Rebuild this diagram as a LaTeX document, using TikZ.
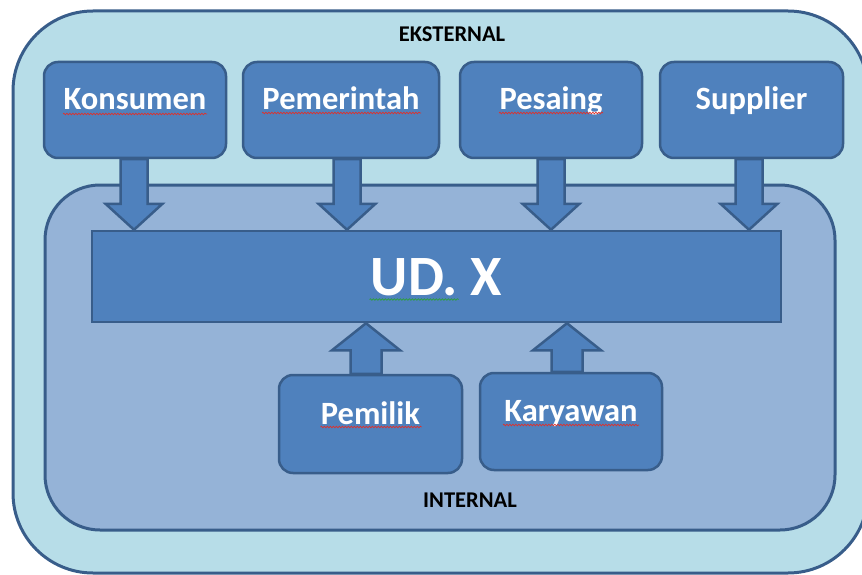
\documentclass[tikz,border=0pt]{standalone}
\usepackage{fontspec}
\setmainfont{Carlito}
\usetikzlibrary{calc,decorations.pathmorphing}
\pgfdeclarelayer{zone}
\pgfdeclarelayer{arr}
\pgfsetlayers{zone,arr,main}
\definecolor{outerfill}{HTML}{B7DDE8}
\definecolor{innerfill}{HTML}{95B3D7}
\definecolor{boxblue}{HTML}{4F81BD}
\definecolor{dk}{HTML}{385D8A}
\definecolor{spellred}{HTML}{E0302A}
\definecolor{spellgreen}{HTML}{2E9E3E}
\tikzset{
  outerbox/.style={fill=outerfill,draw=dk,line width=3pt,rounded corners=80pt},
  innerbox/.style={fill=innerfill,draw=dk,line width=3pt,rounded corners=55pt},
  box/.style={rectangle,rounded corners=14pt,fill=boxblue,draw=dk,line width=2.5pt,
    text=white,font=\bfseries\fontsize{32.5}{32.5}\selectfont,
    text height=20pt,text depth=20pt,inner sep=0pt},
  mainbox/.style={rectangle,fill=boxblue,draw=dk,line width=2.5pt,text=white,
    font=\bfseries\fontsize{57}{57}\selectfont,text height=37pt,text depth=0pt,inner sep=0pt},
  arrowbox/.style={fill=boxblue,draw=dk,line width=2.5pt,line join=miter},
  zonelabel/.style={font=\bfseries\fontsize{22.5}{22.5}\selectfont,text=black,inner sep=0pt,anchor=base},
  spell/.style={draw=spellred,line width=0.7pt,decorate,
    decoration={snake,amplitude=0.8pt,segment length=3pt}},
  spellg/.style={spell,draw=spellgreen}
}
\newcommand\arrdown[3]{%
  \path[arrowbox] let \p1=(#2.south), \p2=(#3.north) in
    (#1pt-13.5pt,\y1) -- (#1pt-13.5pt,\y2+26pt) -- (#1pt-28.5pt,\y2+26pt) -- (#1pt,\y2)
    -- (#1pt+28.5pt,\y2+26pt) -- (#1pt+13.5pt,\y2+26pt) -- (#1pt+13.5pt,\y1) -- cycle;}
\newcommand\arrup[3]{%
  \path[arrowbox] let \p1=(#2.north), \p2=(#3.south) in
    (#1pt-15.5pt,\y1) -- (#1pt-15.5pt,\y2-27pt) -- (#1pt-34pt,\y2-27pt) -- (#1pt,\y2)
    -- (#1pt+34pt,\y2-27pt) -- (#1pt+15.5pt,\y2-27pt) -- (#1pt+15.5pt,\y1) -- cycle;}
\begin{document}
\begin{tikzpicture}[x=1pt,y=-1pt]
\useasboundingbox (0,0) rectangle (862,575);
\clip (0,0) rectangle (862,575);
% zones
\begin{pgfonlayer}{zone}
\fill[white] (0,0) rectangle (862,575);
\draw[outerbox] (13,11) rectangle (868,573);
\draw[innerbox] (45,185) rectangle (835,530);
\end{pgfonlayer}
\node[zonelabel] (eks) at (452,42) {EKSTERNAL};
\node[zonelabel] (int) at (470,507) {INTERNAL};
% boxes
\node[box,minimum width=182pt,minimum height=96pt] (kons) at (135,110) {Konsumen};
\node[box,minimum width=196pt,minimum height=96pt] (pem) at (341,110) {Pemerintah};
\node[box,minimum width=182pt,minimum height=96pt] (pes) at (551,110) {Pesaing};
\node[box,minimum width=183pt,minimum height=96pt] (sup) at (751.5,110) {Supplier};
\node[mainbox,minimum width=689pt,minimum height=91pt] (ud) at (436.5,276.5) {UD. X};
\node[box,minimum width=183pt,minimum height=98pt] (pml) at (370.5,424) {Pemilik};
\node[box,minimum width=182pt,minimum height=97pt] (kar) at (571,421.5) {Karyawan};
% block arrows, behind the boxes
\begin{pgfonlayer}{arr}
\arrdown{134}{kons}{ud}
\arrdown{347}{pem}{ud}
\arrdown{551}{pes}{ud}
\arrdown{749}{sup}{ud}
\arrup{366}{pml}{ud}
\arrup{567}{kar}{ud}
\end{pgfonlayer}
% spell-check underlines
\draw[spell] ($(kons.center)+(-72,4)$) -- ($(kons.center)+(72,4)$);
\draw[spell] ($(pem.center)+(-79,3)$) -- ($(pem.center)+(80,3)$);
\draw[spell] ($(pes.center)+(-52,3)$) -- ($(pes.center)+(52,3)$);
\draw[spell] ($(pml.center)+(-50,3)$) -- ($(pml.center)+(51,3)$);
\draw[spell] ($(kar.center)+(-68,3.5)$) -- ($(kar.center)+(68,3.5)$);
\draw[spellg] ($(ud.center)+(-67,23)$) -- ($(ud.center)+(22,23)$);
\end{tikzpicture}
\end{document}
